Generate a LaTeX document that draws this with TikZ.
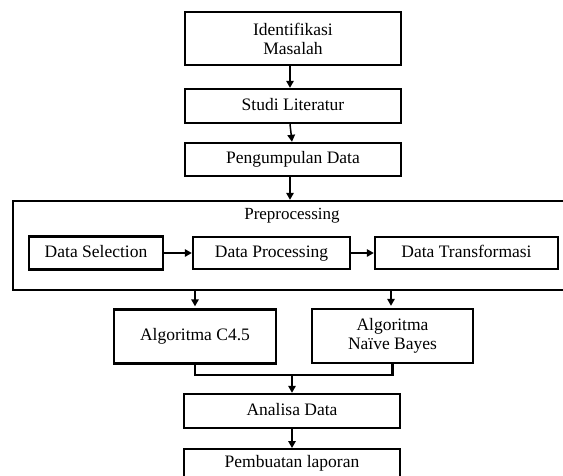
\documentclass[tikz,border=0pt]{standalone}
\usepackage{fontspec}
\setmainfont{Liberation Serif}
\usetikzlibrary{arrows.meta}
\begin{document}
\begin{tikzpicture}[x=1pt,y=-1pt,
  box/.style={draw=black,line width=2.4pt,fill=white,inner sep=0pt,align=center,
    font=\fontsize{17.5}{19}\selectfont},
  one/.style={text height=12pt,text depth=4pt},
  arr/.style={line width=1.5pt,-{Triangle[length=7pt,width=7.5pt]}},
  lin/.style={line width=2.4pt}]
\useasboundingbox (0,0) rectangle (563,475);
\fill[white] (0,0) rectangle (563,475);
\node[box,minimum width=216pt,minimum height=53pt] (ident) at (293,38.5) {Identifikasi\\Masalah};
\node[box,one,minimum width=216pt,minimum height=34pt] (studi) at (293,106) {Studi Literatur};
\node[box,one,minimum width=216pt,minimum height=33pt] (peng) at (293,159.5) {Pengumpulan Data};
\node[box,minimum width=557pt,minimum height=89pt] (pre) at (291.5,245.5) {};
\node[font=\fontsize{17}{19}\selectfont,inner sep=0pt] (prelabel) at (292,216) {Preprocessing};
\node[box,one,minimum width=134pt,minimum height=33pt] (ds) at (96,253) {Data Selection};
\node[box,one,minimum width=157pt,minimum height=32pt] (dp) at (271.5,253) {Data Processing};
\node[box,one,minimum width=183pt,minimum height=32pt] (dt) at (466.5,253) {Data Transformasi};
\node[box,one,minimum width=162pt,minimum height=54pt] (c45) at (195,336.5) {Algoritma C4.5};
\node[box,minimum width=161pt,minimum height=54pt] (nb) at (392.5,336) {Algoritma\\Naïve Bayes};
\node[box,one,minimum width=216pt,minimum height=34pt] (ana) at (292,411) {Analisa Data};
\node[box,minimum width=216pt,minimum height=36pt,anchor=north] (lap) at (292,448) {};
\node[font=\fontsize{17.5}{19}\selectfont,inner sep=0pt] (laptext) at (292,463) {Pembuatan laporan};
\coordinate (jn) at (292,375);
\draw[arr] ([xshift=-3pt]ident.south) -- ([xshift=-3pt]studi.north);
\draw[arr] ([xshift=-3pt]studi.south) -- ([xshift=-1pt]peng.north);
\draw[arr] ([xshift=-3pt]peng.south) -- ([xshift=-1.5pt]pre.north);
\draw[arr] (ds.east) -- (dp.west);
\draw[arr] (dp.east) -- (dt.west);
\draw[arr,shorten >=2pt] (c45.north |- pre.south) -- (c45.north);
\draw[arr,shorten >=2pt] ([xshift=-1.5pt]nb.north |- pre.south) -- ([xshift=-1.5pt]nb.north);
\draw[lin] (c45.south) |- (jn) -| (nb.south);
\draw[arr] (jn) -- (ana.north);
\draw[arr] (ana.south) -- (lap.north);
\end{tikzpicture}
\end{document}
